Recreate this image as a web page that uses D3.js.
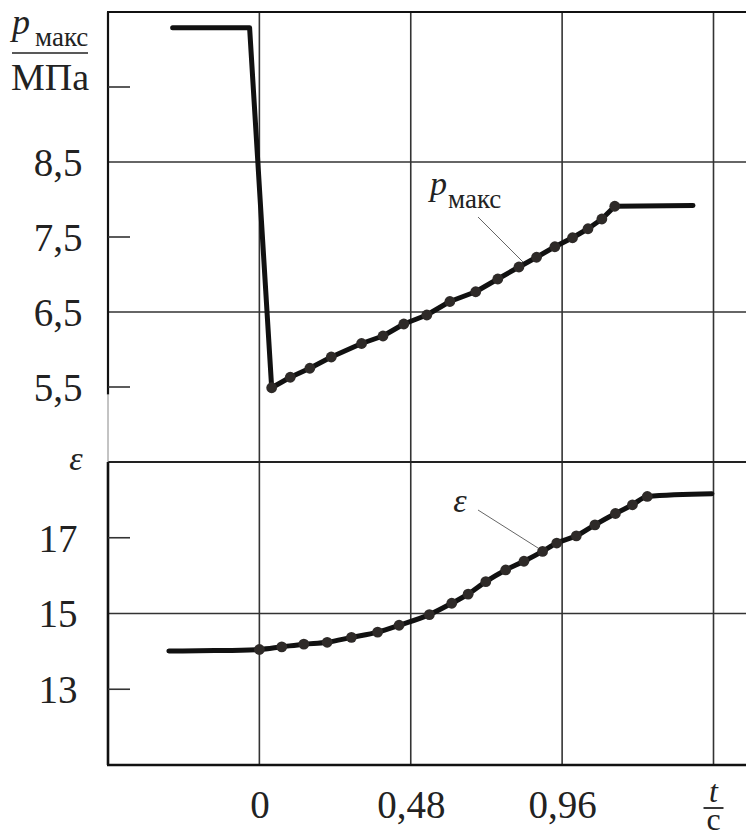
<!DOCTYPE html>
<html>
<head>
<meta charset="utf-8">
<script src="https://cdn.jsdelivr.net/npm/d3@7/dist/d3.min.js"></script>
<style>
  html, body { margin: 0; padding: 0; background: #fff; }
  svg { display: block; }
  text { font-family: "Liberation Serif", "Times New Roman", "DejaVu Serif", serif; fill: #222; }
</style>
</head>
<body>
<svg id="chart" width="746" height="836"></svg>
<script>
// Peak pressure p_макс (MPa) over time t (s)
const pressureTime  = [-0.275, -0.031, 0.039, 0.098, 0.160, 0.228, 0.324, 0.392, 0.458, 0.531,
                       0.604, 0.686, 0.756, 0.823, 0.879, 0.937, 0.993, 1.042, 1.086, 1.127, 1.375];
const pressureValue = [10.29, 10.29, 5.49, 5.63, 5.75, 5.90, 6.08, 6.18, 6.34, 6.46,
                       6.64, 6.77, 6.94, 7.10, 7.23, 7.37, 7.49, 7.61, 7.74, 7.91, 7.92];
// points of the pressure series that carry a marker (index range)
const pressureMarkerRange = [2, 19];

// Compression ratio ε over time t (s)
const ratioTime  = [-0.287, -0.142, 0.000, 0.071, 0.141, 0.215, 0.292, 0.375, 0.443, 0.539,
                    0.610, 0.662, 0.718, 0.781, 0.839, 0.898, 0.943, 1.005, 1.064, 1.129,
                    1.183, 1.230, 1.435];
const ratioValue = [14.01, 14.02, 14.05, 14.12, 14.19, 14.24, 14.37, 14.51, 14.69, 14.97,
                    15.27, 15.51, 15.84, 16.15, 16.38, 16.64, 16.86, 17.05, 17.34, 17.64,
                    17.87, 18.09, 18.16];
const ratioMarkerRange = [2, 21];

// Axis ticks
const timeTicks      = [0, 0.48, 0.96];
const timeGrid       = [0, 0.48, 0.96, 1.44];
const pressureTicks  = [9.5, 8.5, 7.5, 6.5, 5.5];
const pressureLabels = ["", "8,5", "7,5", "6,5", "5,5"];
const pressureGrid   = [8.5, 6.5];
const ratioTicks     = [17, 15, 13];
const ratioLabels    = ["17", "15", "13"];
const ratioGrid      = [15];

const svg = d3.select("#chart");
const W = 746;
const plotLeft = 108, plotTop = 12, plotSplit = 462, plotBottom = 765;
const serif = '"Liberation Serif", "Times New Roman", serif';

const x  = d3.scaleLinear().domain([-0.48, 1.44]).range([plotLeft, 713.5]);
const yP = d3.scaleLinear().domain([4.5, 10.5]).range([plotSplit, plotTop]);
const yE = d3.scaleLinear().domain([11, 19]).range([plotBottom, plotSplit]);

const gridColor = "#333";

// vertical grid lines
svg.append("g").selectAll("line").data(timeGrid).join("line")
  .attr("x1", d => x(d)).attr("x2", d => x(d))
  .attr("y1", plotTop).attr("y2", plotBottom)
  .attr("stroke", gridColor).attr("stroke-width", 1.6);

// horizontal grid lines: pressure panel
svg.append("g").selectAll("line").data(pressureGrid).join("line")
  .attr("x1", plotLeft).attr("x2", W)
  .attr("y1", d => yP(d)).attr("y2", d => yP(d))
  .attr("stroke", gridColor).attr("stroke-width", 1.6);

// horizontal grid lines: ratio panel
svg.append("g").selectAll("line").data(ratioGrid).join("line")
  .attr("x1", plotLeft).attr("x2", W)
  .attr("y1", d => yE(d)).attr("y2", d => yE(d))
  .attr("stroke", gridColor).attr("stroke-width", 1.6);

// panel separator and frame
svg.append("line").attr("x1", plotLeft).attr("x2", W).attr("y1", plotSplit).attr("y2", plotSplit)
  .attr("stroke", "#222").attr("stroke-width", 2);
svg.append("line").attr("x1", plotLeft - 1).attr("x2", W).attr("y1", plotTop).attr("y2", plotTop)
  .attr("stroke", "#111").attr("stroke-width", 2.2);
svg.append("line").attr("x1", plotLeft - 1).attr("x2", W).attr("y1", plotBottom).attr("y2", plotBottom)
  .attr("stroke", "#111").attr("stroke-width", 2.6);
svg.append("line").attr("x1", plotLeft).attr("x2", plotLeft).attr("y1", plotTop).attr("y2", yP(5.4))
  .attr("stroke", "#111").attr("stroke-width", 2.2);
svg.append("line").attr("x1", plotLeft).attr("x2", plotLeft).attr("y1", yP(5.4)).attr("y2", plotSplit)
  .attr("stroke", "#888").attr("stroke-width", 1);
svg.append("line").attr("x1", plotLeft).attr("x2", plotLeft).attr("y1", plotSplit).attr("y2", plotBottom)
  .attr("stroke", "#111").attr("stroke-width", 2.6);

// left axes: short ticks and labels
const labelFont = 39;
const axisP = d3.axisLeft(yP).tickValues(pressureTicks).tickSize(0)
  .tickFormat((d, i) => pressureLabels[i]);
const gP = svg.append("g").attr("transform", `translate(${plotLeft},0)`).call(axisP);
const axisE = d3.axisLeft(yE).tickValues(ratioTicks).tickSize(0)
  .tickFormat((d, i) => ratioLabels[i]);
const gE = svg.append("g").attr("transform", `translate(${plotLeft},0)`).call(axisE);
[gP, gE].forEach(g => {
  g.attr("font-family", serif);
  g.select(".domain").remove();
  g.selectAll(".tick text")
    .attr("x", -50).attr("dy", "0.34em")
    .attr("text-anchor", "middle")
    .style("font-family", serif)
    .style("font-size", labelFont + "px").attr("fill", "#222");
});
svg.append("g").selectAll("line").data(pressureTicks.filter(d => !pressureGrid.includes(d))).join("line")
  .attr("x1", plotLeft).attr("x2", plotLeft + 22)
  .attr("y1", d => yP(d)).attr("y2", d => yP(d))
  .attr("stroke", gridColor).attr("stroke-width", 1.6);
svg.append("g").selectAll("line").data(ratioTicks.filter(d => !ratioGrid.includes(d))).join("line")
  .attr("x1", plotLeft).attr("x2", plotLeft + 22)
  .attr("y1", d => yE(d)).attr("y2", d => yE(d))
  .attr("stroke", gridColor).attr("stroke-width", 1.6);

// bottom axis labels
const axisT = d3.axisBottom(x).tickValues(timeTicks).tickSize(0)
  .tickFormat(d => d === 0 ? "0" : d.toFixed(2).replace(".", ","));
const gT = svg.append("g").attr("transform", `translate(0,${plotBottom})`).call(axisT);
gT.attr("font-family", serif);
gT.select(".domain").remove();
gT.selectAll(".tick text").attr("y", 0).attr("dy", 53)
  .style("font-family", serif)
  .style("font-size", labelFont + "px").attr("fill", "#222");

// axis unit labels
const unitP = svg.append("g");
unitP.append("text").attr("x", 12).attr("y", 34)
  .style("font-style", "italic").style("font-size", "36px").text("p");
unitP.append("text").attr("x", 35).attr("y", 46)
  .style("font-size", "27px").text("макс");
unitP.append("line").attr("x1", 12).attr("x2", 88).attr("y1", 53).attr("y2", 53)
  .attr("stroke", "#222").attr("stroke-width", 1.6);
unitP.append("text").attr("x", 50).attr("y", 90).attr("text-anchor", "middle")
  .style("font-size", "38px").text("МПа");

svg.append("text").attr("x", 76).attr("y", 470).attr("text-anchor", "middle")
  .style("font-style", "italic").style("font-size", "34px").text("ε");

const unitT = svg.append("g");
unitT.append("text").attr("x", x(1.44)).attr("y", 802).attr("text-anchor", "middle")
  .style("font-style", "italic").style("font-size", "32px").text("t");
unitT.append("line").attr("x1", x(1.44) - 10).attr("x2", x(1.44) + 10).attr("y1", 808).attr("y2", 808)
  .attr("stroke", "#222").attr("stroke-width", 1.8);
unitT.append("text").attr("x", x(1.44)).attr("y", 830).attr("text-anchor", "middle")
  .style("font-size", "32px").text("с");

// series
function drawSeries(times, values, yScale, range, curve) {
  const pts = times.map((t, i) => [t, values[i]]);
  const line = d3.line().x(d => x(d[0])).y(d => yScale(d[1])).curve(curve);
  svg.append("path").datum(pts).attr("d", line)
    .attr("fill", "none").attr("stroke", "#111").attr("stroke-width", 5)
    .attr("stroke-linejoin", "round").attr("stroke-linecap", "round");
  svg.append("g").selectAll("circle").data(pts.slice(range[0], range[1] + 1)).join("circle")
    .attr("cx", d => x(d[0])).attr("cy", d => yScale(d[1])).attr("r", 5.4)
    .attr("fill", "#2e2a28");
}
drawSeries(pressureTime, pressureValue, yP, pressureMarkerRange, d3.curveLinear);
drawSeries(ratioTime, ratioValue, yE, ratioMarkerRange, d3.curveMonotoneX);

// in-plot series labels with leader lines
svg.append("text").attr("x", 430).attr("y", 195)
  .style("font-style", "italic").style("font-size", "34px").text("p");
svg.append("text").attr("x", 448).attr("y", 208)
  .style("font-size", "27px").text("макс");
svg.append("line").attr("x1", 478).attr("y1", 217).attr("x2", 523).attr("y2", 262)
  .attr("stroke", "#666").attr("stroke-width", 1);

svg.append("text").attr("x", 460).attr("y", 512).attr("text-anchor", "middle")
  .style("font-style", "italic").style("font-size", "34px").text("ε");
svg.append("line").attr("x1", 478).attr("y1", 510).attr("x2", 538).attr("y2", 548)
  .attr("stroke", "#666").attr("stroke-width", 1);
</script>
</body>
</html>
